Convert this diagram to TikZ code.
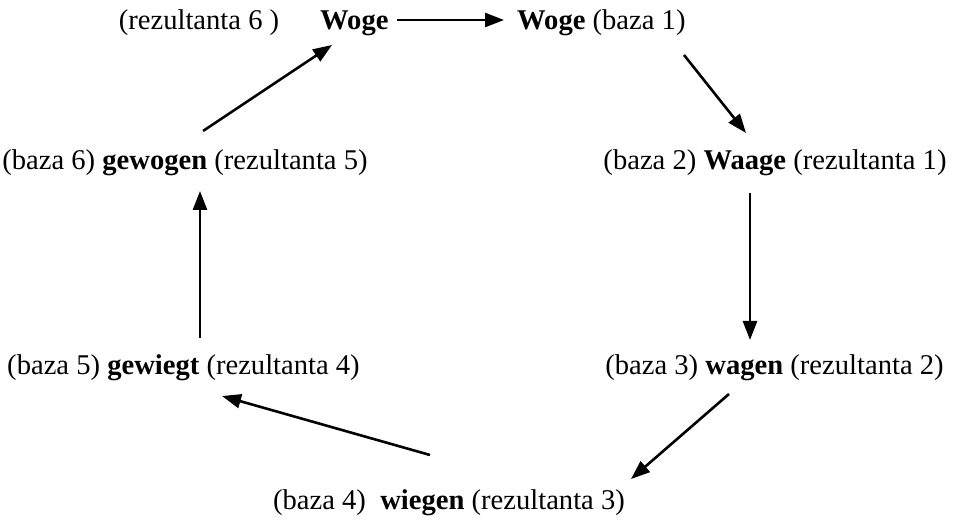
\documentclass[tikz,border=0pt]{standalone}
\usepackage{fontspec}
\setmainfont{Liberation Serif}
\usetikzlibrary{arrows.meta,calc}
\begin{document}
\begin{tikzpicture}[x=1pt,y=1pt,
  lbl/.style={inner sep=0pt,anchor=base,font=\fontsize{28.6}{32}\selectfont},
  arr/.style={line width=2.6pt,-{Triangle[length=19pt,width=14pt]}}]
\useasboundingbox (0,0) rectangle (953,524);
% labels (centres of baselines; y = 524 - image y)
\node[lbl] (r6) at (199,494) {(rezultanta 6 )};
\node[lbl,anchor=base west] (w0) at (320,494) {\textbf{Woge}};
\node[lbl,anchor=base west] (w1) at (517,494) {\textbf{Woge} (baza 1)};
\node[lbl] (b2) at (775,354) {(baza 2) \textbf{Waage} (rezultanta 1)};
\node[lbl] (b3) at (774.5,149) {(baza 3) \textbf{wagen} (rezultanta 2)};
\node[lbl] (b4) at (449,14) {(baza 4)\ \ \textbf{wiegen} (rezultanta 3)};
\node[lbl] (b5) at (183.5,149) {(baza 5) \textbf{gewiegt} (rezultanta 4)};
\node[lbl] (b6) at (185,354) {(baza 6) \textbf{gewogen} (rezultanta 5)};
% connector end points
\coordinate (a0s) at (397,504);
\coordinate (a0e) at (504,504);
\coordinate (a1s) at (684,469);
\coordinate (a1e) at (746,391);
\coordinate (a2s) at (750,331);
\coordinate (a2e) at (750,184);
\coordinate (a3s) at (729,130);
\coordinate (a3e) at (631,45);
\coordinate (a4s) at (430,69);
\coordinate (a4e) at (222,128);
\coordinate (a5s) at (200,186);
\coordinate (a5e) at (200,333);
\coordinate (a6s) at (203,393);
\coordinate (a6e) at (332,479);
\draw[arr] (a0s) -- (a0e);
\draw[arr] (a1s) -- (a1e);
\draw[arr] (a2s) -- (a2e);
\draw[arr] (a3s) -- (a3e);
\draw[arr] (a4s) -- (a4e);
\draw[arr] (a5s) -- (a5e);
\draw[arr] (a6s) -- (a6e);
\end{tikzpicture}
\end{document}
